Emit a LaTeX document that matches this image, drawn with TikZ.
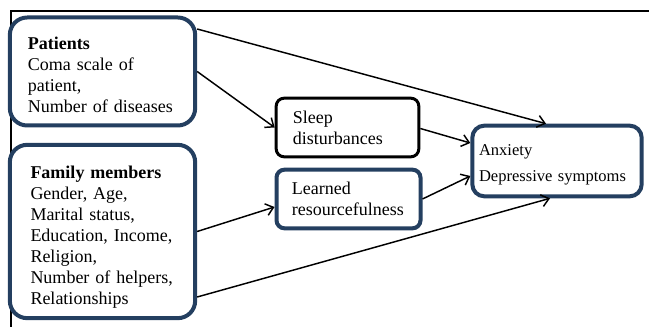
\documentclass[tikz,border=0pt]{standalone}
\usepackage{fontspec}
\setmainfont{Liberation Serif}
\usetikzlibrary{arrows.meta,calc}
\definecolor{boxblue}{HTML}{243F60}
\begin{document}
\begin{tikzpicture} [
    x=0.75pt, y=-0.75pt,
    every node/.style={font=\fontsize{13.5}{15.75}\selectfont},
    bx/.style={draw=boxblue, fill=white, line width=3pt, align=left, inner ysep=0pt},
    sl/.style={draw=black, fill=white, line width=2.25pt, align=left, inner ysep=0pt, rounded corners=6pt},
    link/.style={draw, line width=1.1pt, -{Straight Barb[length=5.5pt,width=9pt]}}
  ]
  \useasboundingbox (0,0) rectangle (649,327);
  % frame
  \draw[line width=1.2pt] (649,11) -- (11,11) -- (11,327);
  % sources
  \node[bx, rounded corners=13pt, minimum width=139pt, minimum height=81pt,
    text width=112pt, inner xsep=13.5pt] (pat) at (102.5,71.5)
    {\rule{0pt}{14pt}\textbf{Patients}\\Coma scale of\\patient,\\Number of diseases};
  \node[bx, rounded corners=13pt, minimum width=139pt, minimum height=130pt,
    text width=108pt, inner xsep=15.5pt] (fam) at (102.5,231.5)
    {\rule{0pt}{18.5pt}\textbf{Family members}\\Gender, Age,\\Marital status,\\Education, Income,\\Religion,\\Number of helpers,\\Relationships};
  % mediators
  \node[sl, minimum width=107pt, minimum height=44pt,
    text width=82pt, inner xsep=12.5pt] (sleep) at (347.5,127.5)
    {Sleep\\disturbances};
  \node[bx, rounded corners=6pt, minimum width=108pt, minimum height=44pt,
    text width=85pt, inner xsep=11.5pt] (learn) at (348.5,199)
    {Learned\\resourcefulness};
  % outcomes
  \node[bx, rounded corners=9pt, minimum width=127pt, minimum height=53pt,
    text width=117pt, inner xsep=5pt, font=\fontsize{12.4}{14.5}\selectfont] (out) at (557,161)
    {\rule{0pt}{13.75pt}Anxiety\\[5.5pt]Depressive symptoms};
  % paths
  \draw[link] ($(pat.east)+(0,-42.5)$) -- ($(out.north)+(-11,0)$);
  \draw[link] (pat.east) -- (sleep.west);
  \draw[link] (fam.east) -- ($(learn.west)+(0,8)$);
  \draw[link] ($(fam.east)+(0,65.5)$) -- ($(out.south)+(-7,0)$);
  \draw[link] ($(sleep.east)+(0,1)$) -- ($(out.west)+(0,-18)$);
  \draw[link] (learn.east) -- ($(out.west)+(0,15)$);
\end{tikzpicture}
\end{document}
